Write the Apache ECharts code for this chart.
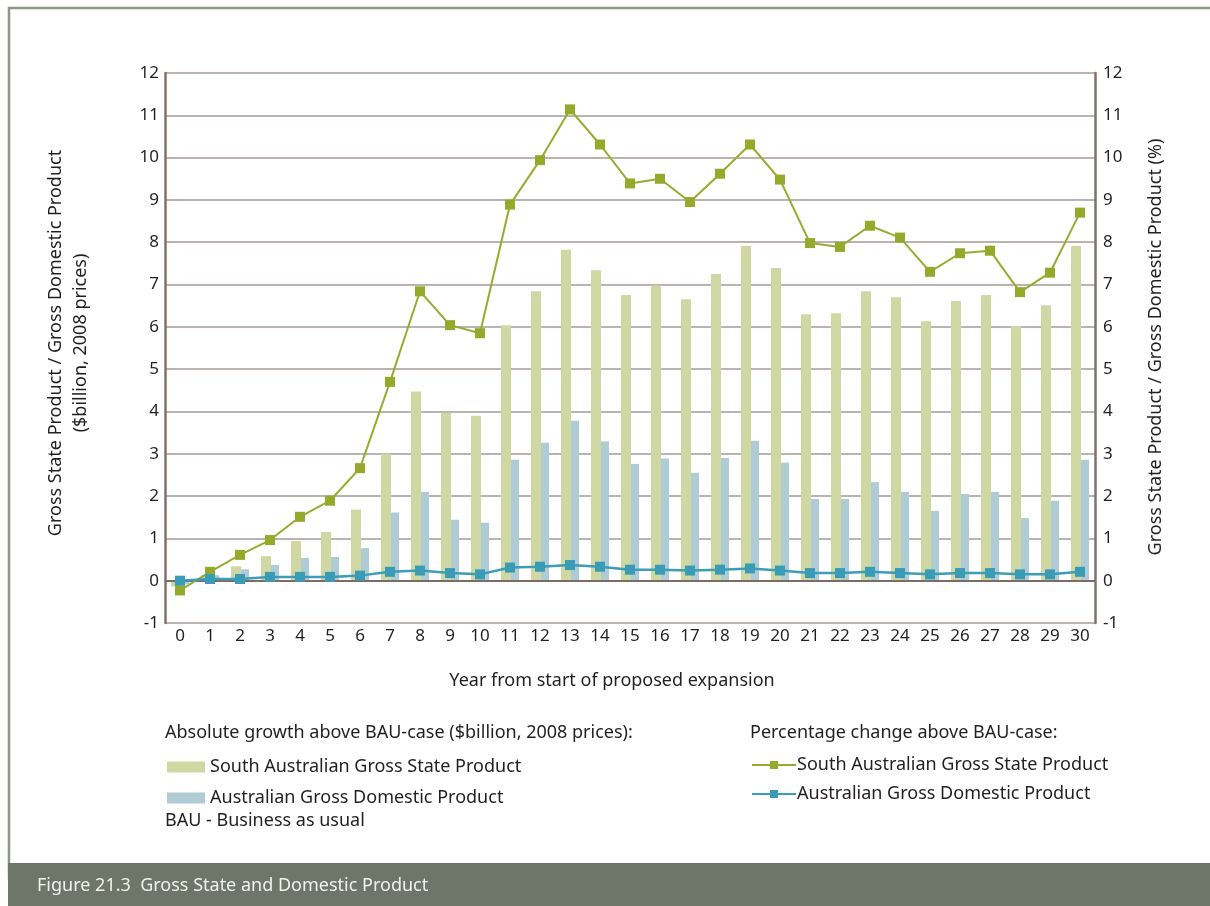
<!DOCTYPE html>
<html>
<head>
<meta charset="utf-8">
<script src="https://cdn.jsdelivr.net/npm/echarts@6/dist/echarts.min.js"></script>
<style>
html,body{margin:0;padding:0;background:#fff;}
#chart{width:1210px;height:906px;}
</style>
</head>
<body>
<div id="chart"></div>
<script>
const years = ['0','1','2','3','4','5','6','7','8','9','10','11','12','13','14','15','16','17','18','19','20','21','22','23','24','25','26','27','28','29','30'];
const gspAbs = [-0.14,0.12,0.34,0.58,0.94,1.15,1.68,3.0,4.47,3.97,3.90,6.04,6.84,7.82,7.34,6.75,6.98,6.65,7.25,7.91,7.39,6.30,6.32,6.84,6.70,6.13,6.61,6.75,6.02,6.51,7.91];
const gdpAbs = [-0.08,0.13,0.27,0.37,0.54,0.56,0.77,1.61,2.10,1.44,1.37,2.86,3.26,3.78,3.29,2.76,2.89,2.55,2.90,3.31,2.79,1.93,1.93,2.33,2.10,1.65,2.05,2.10,1.48,1.89,2.86];
const gspPct = [-0.23,0.21,0.61,0.96,1.51,1.89,2.66,4.70,6.84,6.04,5.85,8.89,9.94,11.14,10.31,9.39,9.50,8.95,9.62,10.31,9.48,7.98,7.89,8.39,8.11,7.30,7.74,7.80,6.82,7.28,8.70];
const gdpPct = [0.0,0.04,0.04,0.09,0.09,0.09,0.12,0.21,0.24,0.18,0.15,0.31,0.33,0.37,0.33,0.26,0.26,0.24,0.26,0.29,0.24,0.18,0.18,0.21,0.18,0.15,0.18,0.18,0.15,0.15,0.21];

const FONT = '"Noto Sans", "Open Sans", sans-serif';
const TXT = '#231f20';
const GRIDC = '#bab3b0';
const AXISC = '#7f716b';
const FS = 18;

const chart = echarts.init(document.getElementById('chart'), null, {renderer:'canvas'});
const option = {
  animation: false,
  backgroundColor: '#ffffff',
  textStyle: {fontFamily: FONT},
  grid: {left: 165, right: 115, top: 73, bottom: 283, containLabel: false},
  xAxis: {
    type: 'category', data: years, boundaryGap: true,
    axisLine: {show: false, onZero: false},
    axisTick: {show: false},
    axisLabel: {color: TXT, fontSize: 17, fontFamily: FONT, margin: 5, interval: 0},
    splitLine: {show: false}
  },
  yAxis: [
    {
      type: 'value', min: -1, max: 12, interval: 1, position: 'left',
      axisLine: {show: true, lineStyle: {color: AXISC, width: 2.5}},
      axisTick: {show: false},
      axisLabel: {color: TXT, fontSize: 17, fontFamily: FONT, margin: 6},
      splitLine: {show: true, lineStyle: {color: GRIDC, width: 2}}
    },
    {
      type: 'value', min: -1, max: 12, interval: 1, position: 'right',
      axisLine: {show: true, lineStyle: {color: AXISC, width: 2.5}},
      axisTick: {show: false},
      axisLabel: {color: TXT, fontSize: 17, fontFamily: FONT, margin: 8},
      splitLine: {show: false}
    }
  ],
  legend: [
    {
      left: 162, top: 753, orient: 'vertical', itemWidth: 38, itemHeight: 11, itemGap: 13,
      selectedMode: false, icon: 'rect',
      textStyle: {color: TXT, fontSize: FS, fontFamily: FONT, padding: [0,0,0,0]},
      data: ['South Australian Gross State Product', 'Australian Gross Domestic Product']
    },
    {
      left: 746, top: 751, orient: 'vertical', itemWidth: 44, itemHeight: 10, itemGap: 11,
      selectedMode: false,
      textStyle: {color: TXT, fontSize: FS, fontFamily: FONT, padding: [0,0,0,-4]},
      formatter: function (n) { return n.replace(' (%)', ''); },
      data: ['South Australian Gross State Product (%)', 'Australian Gross Domestic Product (%)']
    }
  ],
  series: [
    {
      name: 'South Australian Gross State Product', type: 'bar', yAxisIndex: 0,
      data: gspAbs, barWidth: 10, barGap: '0%',
      itemStyle: {color: '#cfd8a2'},
      markLine: {
        silent: true, symbol: 'none', label: {show: false},
        lineStyle: {color: '#7c6c66', width: 2, type: 'solid'},
        data: [{yAxis: 0}]
      },
      z: 2
    },
    {
      name: 'Australian Gross Domestic Product', type: 'bar', yAxisIndex: 0,
      data: gdpAbs, barWidth: 8, barGap: '0%',
      itemStyle: {color: '#afcbd3'},
      z: 2
    },
    {
      name: 'South Australian Gross State Product (%)', type: 'line', yAxisIndex: 1,
      data: gspPct, symbol: 'rect', symbolSize: 10,
      lineStyle: {color: '#96ac2f', width: 2},
      itemStyle: {color: '#93aa2b'},
      z: 5
    },
    {
      name: 'Australian Gross Domestic Product (%)', type: 'line', yAxisIndex: 1,
      data: gdpPct, symbol: 'rect', symbolSize: 10,
      lineStyle: {color: '#3c9db8', width: 2.5},
      itemStyle: {color: '#3a9bb6'},
      z: 5
    }
  ],
  graphic: [
    {type: 'rect', shape: {x: 9, y: 8, width: 1220, height: 870}, style: {fill: 'none', stroke: '#8d9489', lineWidth: 2.5}, z: 0, silent: true},
    {type: 'rect', shape: {x: 8, y: 863, width: 1210, height: 43}, style: {fill: '#6e7569'}, z: 1, silent: true},
    {type: 'text', x: 37, y: 886, style: {text: 'Figure 21.3  Gross State and Domestic Product', fill: '#f2f2ea', font: FS + 'px ' + FONT, verticalAlign: 'middle'}, z: 2, silent: true},
    {type: 'text', x: 68, y: 343, rotation: Math.PI / 2, style: {text: 'Gross State Product / Gross Domestic Product\n($billion, 2008 prices)', fill: TXT, font: FS + 'px ' + FONT, align: 'center', verticalAlign: 'middle', lineHeight: 25}, silent: true},
    {type: 'text', x: 1156, y: 347, rotation: Math.PI / 2, style: {text: 'Gross State Product / Gross Domestic Product (%)', fill: TXT, font: FS + 'px ' + FONT, align: 'center', verticalAlign: 'middle'}, silent: true},
    {type: 'text', x: 612, y: 681, style: {text: 'Year from start of proposed expansion', fill: TXT, font: FS + 'px ' + FONT, align: 'center', verticalAlign: 'middle'}, silent: true},
    {type: 'text', x: 165, y: 733, style: {text: 'Absolute growth above BAU-case ($billion, 2008 prices):', fill: TXT, font: FS + 'px ' + FONT, align: 'left', verticalAlign: 'middle'}, silent: true},
    {type: 'text', x: 750, y: 733, style: {text: 'Percentage change above BAU-case:', fill: TXT, font: FS + 'px ' + FONT, align: 'left', verticalAlign: 'middle'}, silent: true},
    {type: 'text', x: 165, y: 821, style: {text: 'BAU - Business as usual', fill: TXT, font: FS + 'px ' + FONT, align: 'left', verticalAlign: 'middle'}, silent: true}
  ]
};
chart.setOption(option);
</script>
</body>
</html>
